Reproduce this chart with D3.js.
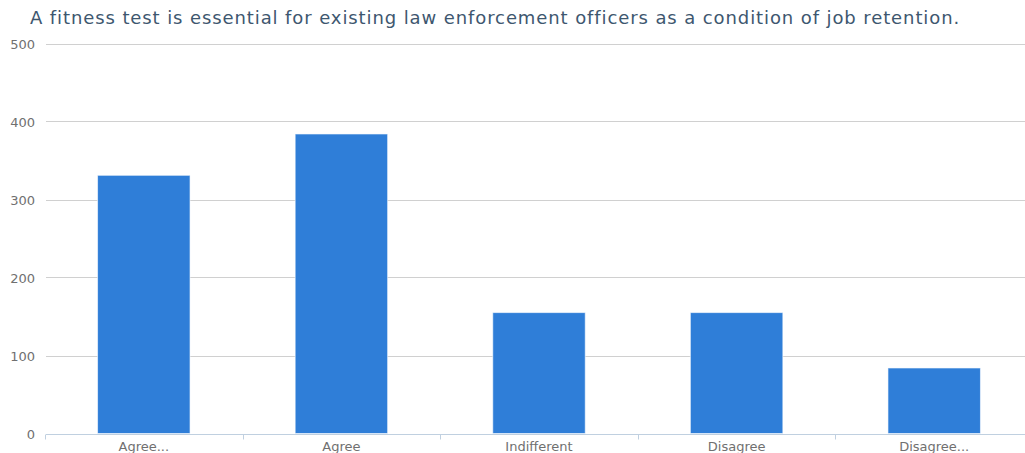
<!DOCTYPE html>
<html>
<head>
<meta charset="utf-8">
<script src="https://cdn.jsdelivr.net/npm/d3@7"></script>
<style>
  html, body { margin: 0; padding: 0; background: #fff; }
  svg { display: block; }
</style>
</head>
<body>
<svg id="chart" width="1025" height="453"></svg>
<script>
// Survey responses
const categories = ["Agree...", "Agree", "Indifferent", "Disagree", "Disagree..."];
const counts = [331, 384, 155, 155, 84];
const yTicks = [0, 100, 200, 300, 400, 500];
const titleText = "A fitness test is essential for existing law enforcement officers as a condition of job retention.";

const svg = d3.select("#chart");
const W = 1025, H = 453;
const plot = { left: 45, right: 1033, top: 43.5, bottom: 433.5 };
const font = "'DejaVu Sans', Verdana, sans-serif";

const x = d3.scaleBand()
  .domain(categories)
  .range([plot.left, plot.right])
  .paddingInner(0)
  .paddingOuter(0);

const y = d3.scaleLinear()
  .domain([0, 500])
  .range([plot.bottom, plot.top]);

// Title
svg.append("text")
  .attr("x", 30)
  .attr("y", 24)
  .attr("fill", "#3E576F")
  .attr("font-family", font)
  .attr("font-size", 18)
  .attr("letter-spacing", 0.9)
  .text(titleText);

// Horizontal grid lines
svg.append("g")
  .selectAll("line")
  .data(yTicks.filter(d => d > 0))
  .join("line")
  .attr("x1", plot.left + 1)
  .attr("x2", W)
  .attr("y1", d => Math.round(y(d)) + 0.5)
  .attr("y2", d => Math.round(y(d)) + 0.5)
  .attr("stroke", "#d0d0d0")
  .attr("stroke-width", 1);

// Y axis labels
const yAxis = d3.axisLeft(y).tickValues(yTicks).tickSize(0).tickPadding(0);
const gy = svg.append("g")
  .attr("transform", `translate(${35},0)`)
  .call(yAxis);
gy.select(".domain").remove();
gy.selectAll("text")
  .attr("fill", "#707070")
  .attr("font-family", font)
  .attr("font-size", 13)
  .attr("dy", "0.4em");

// Bars
const barW = x.bandwidth() * 0.468;
svg.append("g")
  .selectAll("rect")
  .data(counts)
  .join("rect")
  .attr("x", (d, i) => x(categories[i]) + (x.bandwidth() - barW) / 2)
  .attr("width", barW)
  .attr("y", d => y(d))
  .attr("height", d => y(0) - y(d))
  .attr("fill", "#2f7ed8")
  .attr("stroke", "#ffffff")
  .attr("stroke-opacity", 0.6)
  .attr("stroke-width", 1);

// X axis line, ticks at band boundaries, labels
const xAxis = d3.axisBottom(x).tickSize(0).tickPadding(7);
const gx = svg.append("g")
  .attr("transform", `translate(0,${Math.round(y(0)) + 0.5})`)
  .call(xAxis);
gx.select(".domain").remove();
gx.append("line")
  .attr("x1", plot.left + 1)
  .attr("x2", W)
  .attr("stroke", "#c0d0e0")
  .attr("stroke-width", 1);
gx.selectAll(".boundary")
  .data(categories)
  .join("line")
  .attr("class", "boundary")
  .attr("x1", d => Math.round(x(d)) + 0.5)
  .attr("x2", d => Math.round(x(d)) + 0.5)
  .attr("y1", 0)
  .attr("y2", 5)
  .attr("stroke", "#c0d0e0");
gx.selectAll(".tick text")
  .attr("fill", "#707070")
  .attr("font-family", font)
  .attr("font-size", 13);
</script>
</body>
</html>
